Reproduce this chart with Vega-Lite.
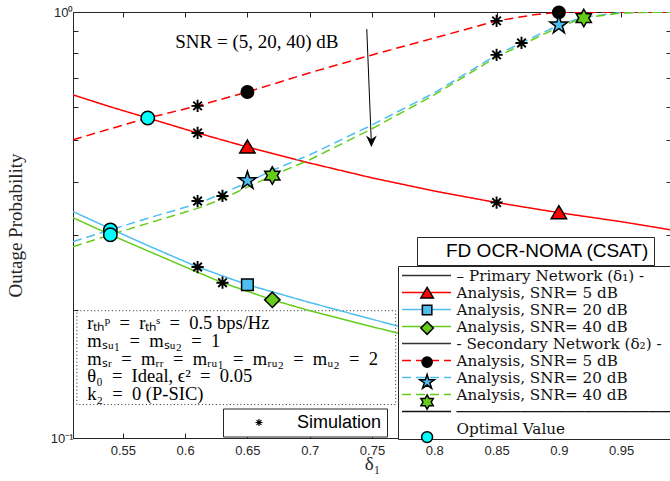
{
  "$schema": "https://vega.github.io/schema/vega-lite/v6.json",
  "width": 598,
  "height": 426,
  "autosize": {"type": "none"},
  "padding": {"left": 73, "top": 12, "right": 0, "bottom": 43},
  "background": "white",
  "config": {
    "view": {"stroke": null},
    "axis": {
      "grid": false,
      "domainColor": "#262626",
      "tickColor": "#262626",
      "labelColor": "#262626",
      "titleColor": "#262626",
      "labelFont": "Liberation Sans",
      "labelFontSize": 13,
      "titleFont": "Liberation Serif",
      "titleFontWeight": "normal",
      "titleFontSize": 19,
      "tickSize": -5,
      "domainWidth": 1,
      "tickWidth": 1
    }
  },
  "datasets": {
    "curves": [
      {"d": 0.51, "p": 0.639, "s": "P5"}, {"d": 0.54, "p": 0.599, "s": "P5"}, {"d": 0.57, "p": 0.564, "s": "P5"},
      {"d": 0.61, "p": 0.52, "s": "P5"}, {"d": 0.65, "p": 0.482, "s": "P5"}, {"d": 0.70, "p": 0.442, "s": "P5"},
      {"d": 0.75, "p": 0.408, "s": "P5"}, {"d": 0.80, "p": 0.38, "s": "P5"}, {"d": 0.85, "p": 0.357, "s": "P5"},
      {"d": 0.90, "p": 0.338, "s": "P5"}, {"d": 0.95, "p": 0.322, "s": "P5"}, {"d": 0.99, "p": 0.308, "s": "P5"},
      {"d": 0.51, "p": 0.34, "s": "P20"}, {"d": 0.54, "p": 0.31, "s": "P20"}, {"d": 0.57, "p": 0.283, "s": "P20"},
      {"d": 0.61, "p": 0.252, "s": "P20"}, {"d": 0.65, "p": 0.229, "s": "P20"}, {"d": 0.70, "p": 0.208, "s": "P20"},
      {"d": 0.75, "p": 0.19, "s": "P20"}, {"d": 0.80, "p": 0.174, "s": "P20"}, {"d": 0.85, "p": 0.16, "s": "P20"},
      {"d": 0.90, "p": 0.148, "s": "P20"}, {"d": 0.95, "p": 0.138, "s": "P20"}, {"d": 0.99, "p": 0.131, "s": "P20"},
      {"d": 0.51, "p": 0.329, "s": "P40"}, {"d": 0.54, "p": 0.3, "s": "P40"}, {"d": 0.57, "p": 0.275, "s": "P40"},
      {"d": 0.61, "p": 0.245, "s": "P40"}, {"d": 0.63, "p": 0.2315, "s": "P40"}, {"d": 0.67, "p": 0.211, "s": "P40"},
      {"d": 0.70, "p": 0.199, "s": "P40"}, {"d": 0.75, "p": 0.1825, "s": "P40"}, {"d": 0.80, "p": 0.168, "s": "P40"},
      {"d": 0.85, "p": 0.155, "s": "P40"}, {"d": 0.90, "p": 0.144, "s": "P40"}, {"d": 0.95, "p": 0.135, "s": "P40"},
      {"d": 0.99, "p": 0.128, "s": "P40"},
      {"d": 0.51, "p": 0.501, "s": "S5"}, {"d": 0.54, "p": 0.532, "s": "S5"}, {"d": 0.57, "p": 0.564, "s": "S5"},
      {"d": 0.61, "p": 0.602, "s": "S5"}, {"d": 0.65, "p": 0.649, "s": "S5"}, {"d": 0.70, "p": 0.72, "s": "S5"},
      {"d": 0.75, "p": 0.793, "s": "S5"}, {"d": 0.80, "p": 0.869, "s": "S5"}, {"d": 0.85, "p": 0.953, "s": "S5"},
      {"d": 0.88, "p": 0.985, "s": "S5"}, {"d": 0.90, "p": 0.998, "s": "S5"}, {"d": 0.92, "p": 1.0, "s": "S5"},
      {"d": 0.99, "p": 1.0, "s": "S5"},
      {"d": 0.51, "p": 0.289, "s": "S20"}, {"d": 0.54, "p": 0.308, "s": "S20"}, {"d": 0.57, "p": 0.328, "s": "S20"},
      {"d": 0.61, "p": 0.355, "s": "S20"}, {"d": 0.63, "p": 0.375, "s": "S20"}, {"d": 0.65, "p": 0.398, "s": "S20"},
      {"d": 0.67, "p": 0.425, "s": "S20"}, {"d": 0.70, "p": 0.462, "s": "S20"}, {"d": 0.75, "p": 0.543, "s": "S20"},
      {"d": 0.80, "p": 0.646, "s": "S20"}, {"d": 0.85, "p": 0.793, "s": "S20"}, {"d": 0.87, "p": 0.846, "s": "S20"},
      {"d": 0.90, "p": 0.932, "s": "S20"}, {"d": 0.92, "p": 0.973, "s": "S20"}, {"d": 0.95, "p": 0.997, "s": "S20"},
      {"d": 0.99, "p": 1.0, "s": "S20"},
      {"d": 0.51, "p": 0.281, "s": "S40"}, {"d": 0.54, "p": 0.3, "s": "S40"}, {"d": 0.57, "p": 0.319, "s": "S40"},
      {"d": 0.61, "p": 0.346, "s": "S40"}, {"d": 0.63, "p": 0.364, "s": "S40"}, {"d": 0.65, "p": 0.388, "s": "S40"},
      {"d": 0.67, "p": 0.413, "s": "S40"}, {"d": 0.70, "p": 0.45, "s": "S40"}, {"d": 0.75, "p": 0.532, "s": "S40"},
      {"d": 0.80, "p": 0.639, "s": "S40"}, {"d": 0.85, "p": 0.784, "s": "S40"}, {"d": 0.87, "p": 0.837, "s": "S40"},
      {"d": 0.90, "p": 0.922, "s": "S40"}, {"d": 0.92, "p": 0.968, "s": "S40"}, {"d": 0.95, "p": 0.995, "s": "S40"},
      {"d": 0.99, "p": 1.0, "s": "S40"}
    ],
    "sim": [
      {"d": 0.61, "p": 0.602, "k": "Simulation"}, {"d": 0.85, "p": 0.953, "k": "Simulation"},
      {"d": 0.61, "p": 0.52, "k": "Simulation"}, {"d": 0.85, "p": 0.357, "k": "Simulation"},
      {"d": 0.61, "p": 0.36, "k": "Simulation"}, {"d": 0.63, "p": 0.37, "k": "Simulation"},
      {"d": 0.85, "p": 0.793, "k": "Simulation"}, {"d": 0.87, "p": 0.846, "k": "Simulation"},
      {"d": 0.61, "p": 0.252, "k": "Simulation"}, {"d": 0.63, "p": 0.2315, "k": "Simulation"}
    ],
    "marks": [
      {"d": 0.65, "p": 0.482, "m": "p5"}, {"d": 0.90, "p": 0.338, "m": "p5"},
      {"d": 0.65, "p": 0.229, "m": "p20"},
      {"d": 0.67, "p": 0.211, "m": "p40"},
      {"d": 0.65, "p": 0.649, "m": "s5"}, {"d": 0.90, "p": 0.998, "m": "s5"},
      {"d": 0.65, "p": 0.402, "m": "s20"}, {"d": 0.90, "p": 0.932, "m": "s20"},
      {"d": 0.67, "p": 0.413, "m": "s40"}, {"d": 0.92, "p": 0.968, "m": "s40"},
      {"d": 0.57, "p": 0.564, "m": "opt"}, {"d": 0.54, "p": 0.308, "m": "opt"}, {"d": 0.54, "p": 0.3, "m": "opt"}
    ]
  },
  "resolve": {"axis": {"x": "independent", "y": "independent"}},
  "layer": [
    {
      "data": {"values": [{}]},
      "mark": {"type": "rect", "fill": null, "stroke": "#262626", "strokeWidth": 1, "strokeDash": [1, 2.5]},
      "encoding": {
        "x": {"datum": 0.5131, "type": "quantitative", "axis": null},
        "x2": {"datum": 0.769},
        "y": {"datum": 0.199, "type": "quantitative", "axis": null},
        "y2": {"datum": 0.1198}
      }
    },
    {
      "data": {"values": [{"t": "rₜₕᵖ\u2002=\u2002rₜₕˢ\u2002=\u20020.5 bps/Hz\nmₛᵤ₁\u2002=\u2002mₛᵤ₂\u2002=\u20021\nmₛᵣ\u2002=\u2002mᵣᵣ\u2002=\u2002mᵣᵤ₁\u2002=\u2002mᵣᵤ₂\u2002=\u2002mᵤ₂\u2002=\u20022\nθ₀\u2002=\u2002Ideal, ϵ²\u2002=\u20020.05\nk₂\u2002=\u20020 (P-SIC)"}]},
      "mark": {"type": "text", "align": "left", "baseline": "top", "font": "Liberation Serif", "fontSize": 18.5, "lineHeight": 17.8, "lineBreak": "\n", "color": "#000000"},
      "encoding": {
        "x": {"datum": 0.5215, "type": "quantitative", "axis": null},
        "y": {"datum": 0.1955, "type": "quantitative", "axis": null},
        "text": {"field": "t", "type": "nominal"}
      }
    },
    {
      "data": {"name": "curves"},
      "mark": {"type": "line", "strokeWidth": 1.5, "clip": true},
      "encoding": {
        "x": {"field": "d", "type": "quantitative", "scale": {"domain": [0.51, 0.99], "nice": false, "zero": false},
          "axis": {"orient": "bottom", "values": [0.55, 0.6, 0.65, 0.7, 0.75, 0.8, 0.85, 0.9, 0.95], "format": "~g", "title": "δ₁", "labelPadding": 11, "titlePadding": -3}},
        "y": {"field": "p", "type": "quantitative", "scale": {"type": "log", "domain": [0.1, 1], "nice": false},
          "axis": {"orient": "left", "values": [0.1, 0.2, 0.3, 0.4, 0.5, 0.6, 0.7, 0.8, 0.9, 1], "labelExpr": "datum.value > 0.95 ? '10⁰' : (datum.value < 0.15 ? '10⁻¹' : '')", "title": "Outage Probability", "labelPadding": 5, "titlePadding": 25}},
        "color": {"field": "s", "type": "nominal",
          "scale": {"domain": ["PN", "P5", "P20", "P40", "SN", "S5", "S20", "S40", "SEP", "OPT"],
            "range": ["#333333", "#FF0000", "#4DBEEE", "#66CC1A", "#333333", "#FF0000", "#4DBEEE", "#66CC1A", "#111111", "rgba(0,0,0,0)"]},
          "legend": {"orient": "none", "legendX": 325, "legendY": 254, "title": null, "zindex": 1,
            "symbolType": "M-3.5,0L3.5,0", "symbolSize": 196, "symbolStrokeWidth": 1.5, "symbolOffset": 19,
            "labelFont": "DejaVu Serif", "labelFontSize": 15.2, "labelColor": "#111111", "labelLimit": 400, "labelOffset": 22,
            "labelExpr": "datum.value == 'PN' ? '– Primary Network (δ₁) -' : datum.value == 'SN' ? '- Secondary Network (δ₂) -' : datum.value == 'SEP' ? '─────────────────────────' : datum.value == 'OPT' ? 'Optimal Value' : 'Analysis, SNR= ' + slice(datum.value, 1) + ' dB'",
            "fillColor": "white", "strokeColor": "#262626", "padding": 1.5, "rowPadding": 0}},
        "strokeDash": {"field": "s", "type": "nominal",
          "scale": {"domain": ["PN", "P5", "P20", "P40", "SN", "S5", "S20", "S40", "SEP", "OPT"],
            "range": [[1, 0], [1, 0], [1, 0], [1, 0], [1, 0], [9, 5], [9, 5], [9, 5], [1, 0], [1, 0]]},
          "legend": {"orient": "none"}}
      }
    },
    {
      "data": {"name": "sim"},
      "mark": {"type": "point", "shape": "M-1,0L1,0M0,-1L0,1M-0.7,-0.7L0.7,0.7M-0.7,0.7L0.7,-0.7", "size": 150, "filled": false, "strokeWidth": 1.9, "opacity": 1},
      "encoding": {
        "x": {"field": "d", "type": "quantitative", "axis": null},
        "y": {"field": "p", "type": "quantitative", "axis": null},
        "stroke": {"field": "k", "type": "nominal", "scale": {"range": ["#000000"]},
          "legend": {"orient": "none", "legendX": 150, "legendY": 396.5, "title": null,
            "symbolType": "M-1,0L1,0M0,-1L0,1M-0.7,-0.7L0.7,0.7M-0.7,0.7L0.7,-0.7", "symbolSize": 49, "symbolStrokeWidth": 1.2, "symbolOffset": 22,
            "labelFont": "Liberation Sans", "labelFontSize": 18, "labelColor": "#000000", "labelOffset": 29, "labelExpr": "datum.label + '    '",
            "fillColor": "white", "strokeColor": "#262626", "padding": 5}}
      }
    },
    {
      "data": {"name": "marks"},
      "mark": {"type": "point", "filled": true, "size": 196, "stroke": "#000000", "strokeWidth": 1.5, "opacity": 1},
      "encoding": {
        "x": {"field": "d", "type": "quantitative",
          "axis": {"orient": "top", "values": [0.55, 0.6, 0.65, 0.7, 0.75, 0.8, 0.85, 0.9, 0.95], "labels": false, "title": null}},
        "y": {"field": "p", "type": "quantitative",
          "axis": {"orient": "right", "values": [0.1, 0.2, 0.3, 0.4, 0.5, 0.6, 0.7, 0.8, 0.9, 1], "labels": false, "title": null}},
        "fill": {"field": "m", "type": "nominal",
          "scale": {"domain": ["pn", "p5", "p20", "p40", "sn", "s5", "s20", "s40", "sep", "opt"],
            "range": ["rgba(0,0,0,0)", "#FF0000", "#4DBEEE", "#66CC1A", "rgba(0,0,0,0)", "#000000", "#4DBEEE", "#66CC1A", "rgba(0,0,0,0)", "#00FFFF"]},
          "legend": {"orient": "none", "legendX": 325, "legendY": 254, "title": null, "zindex": 2,
            "symbolSize": 130, "symbolStrokeWidth": 1.5, "symbolStrokeColor": "#000000", "symbolOffset": 20,
            "labelFont": "DejaVu Serif", "labelFontSize": 15.2, "labelOpacity": 0, "labelOffset": 22,
            "padding": 1.5, "rowPadding": 0}},
        "shape": {"field": "m", "type": "nominal",
          "scale": {"domain": ["pn", "p5", "p20", "p40", "sn", "s5", "s20", "s40", "sep", "opt"],
            "range": ["M0,0L0.001,0", "M0,-1L1.1,0.85L-1.1,0.85Z", "M-0.83,-0.83L0.83,-0.83L0.83,0.83L-0.83,0.83Z", "M0,-1.1L1.1,0L0,1.1L-1.1,0Z", "M0,0L0.001,0",
              "M-0.89,0A0.89,0.89,0,1,1,0.89,0A0.89,0.89,0,1,1,-0.89,0Z",
              "M0,-1.35L0.303,-0.417L1.284,-0.417L0.49,0.159L0.794,1.092L0,0.516L-0.794,1.092L-0.49,0.159L-1.284,-0.417L-0.303,-0.417Z",
              "M0,-1.25L0.3608,-0.625L1.0825,-0.625L0.7217,0L1.0825,0.625L0.3608,0.625L0,1.25L-0.3608,0.625L-1.0825,0.625L-0.7217,0L-1.0825,-0.625L-0.3608,-0.625Z",
              "M0,0L0.001,0",
              "M-0.96,0A0.96,0.96,0,1,1,0.96,0A0.96,0.96,0,1,1,-0.96,0Z"]},
          "legend": {"orient": "none"}}
      }
    },
    {
      "data": {"values": [{"label": "SNR = (5, 20, 40) dB", "box": "FD OCR-NOMA (CSAT)"}]},
      "mark": {"type": "text", "font": "Liberation Serif", "fontSize": 19, "align": "center", "baseline": "middle", "color": "#000000"},
      "encoding": {
        "x": {"datum": 0.6576, "type": "quantitative", "axis": null},
        "y": {"datum": 0.85, "type": "quantitative", "axis": null},
        "text": {"field": "label", "type": "nominal"},
        "opacity": {"field": "box", "type": "nominal", "scale": {"range": [1, 1]},
          "legend": {"orient": "none", "legendX": 344, "legendY": 225, "title": null,
            "symbolSize": 0, "symbolStrokeWidth": 0, "symbolOpacity": 0, "symbolOffset": 0,
            "labelFont": "Liberation Sans", "labelFontSize": 19, "labelColor": "#000000", "labelOffset": 6, "labelLimit": 400,
            "fillColor": "white", "strokeColor": "#262626", "padding": 4}}
      }
    },
    {
      "data": {"values": [{}]},
      "mark": {"type": "rule", "color": "#000000", "strokeWidth": 1},
      "encoding": {
        "x": {"datum": 0.7458, "type": "quantitative", "axis": null},
        "x2": {"datum": 0.7495},
        "y": {"datum": 0.912, "type": "quantitative", "axis": null},
        "y2": {"datum": 0.49}
      }
    },
    {
      "data": {"values": [{}]},
      "mark": {"type": "point", "shape": "M0,1L-0.9,-0.9L0,-0.3L0.9,-0.9Z", "size": 144, "filled": true, "color": "#000000", "opacity": 1},
      "encoding": {
        "x": {"datum": 0.7495, "type": "quantitative", "axis": null},
        "y": {"datum": 0.498, "type": "quantitative", "axis": null}
      }
    }
  ]
}
